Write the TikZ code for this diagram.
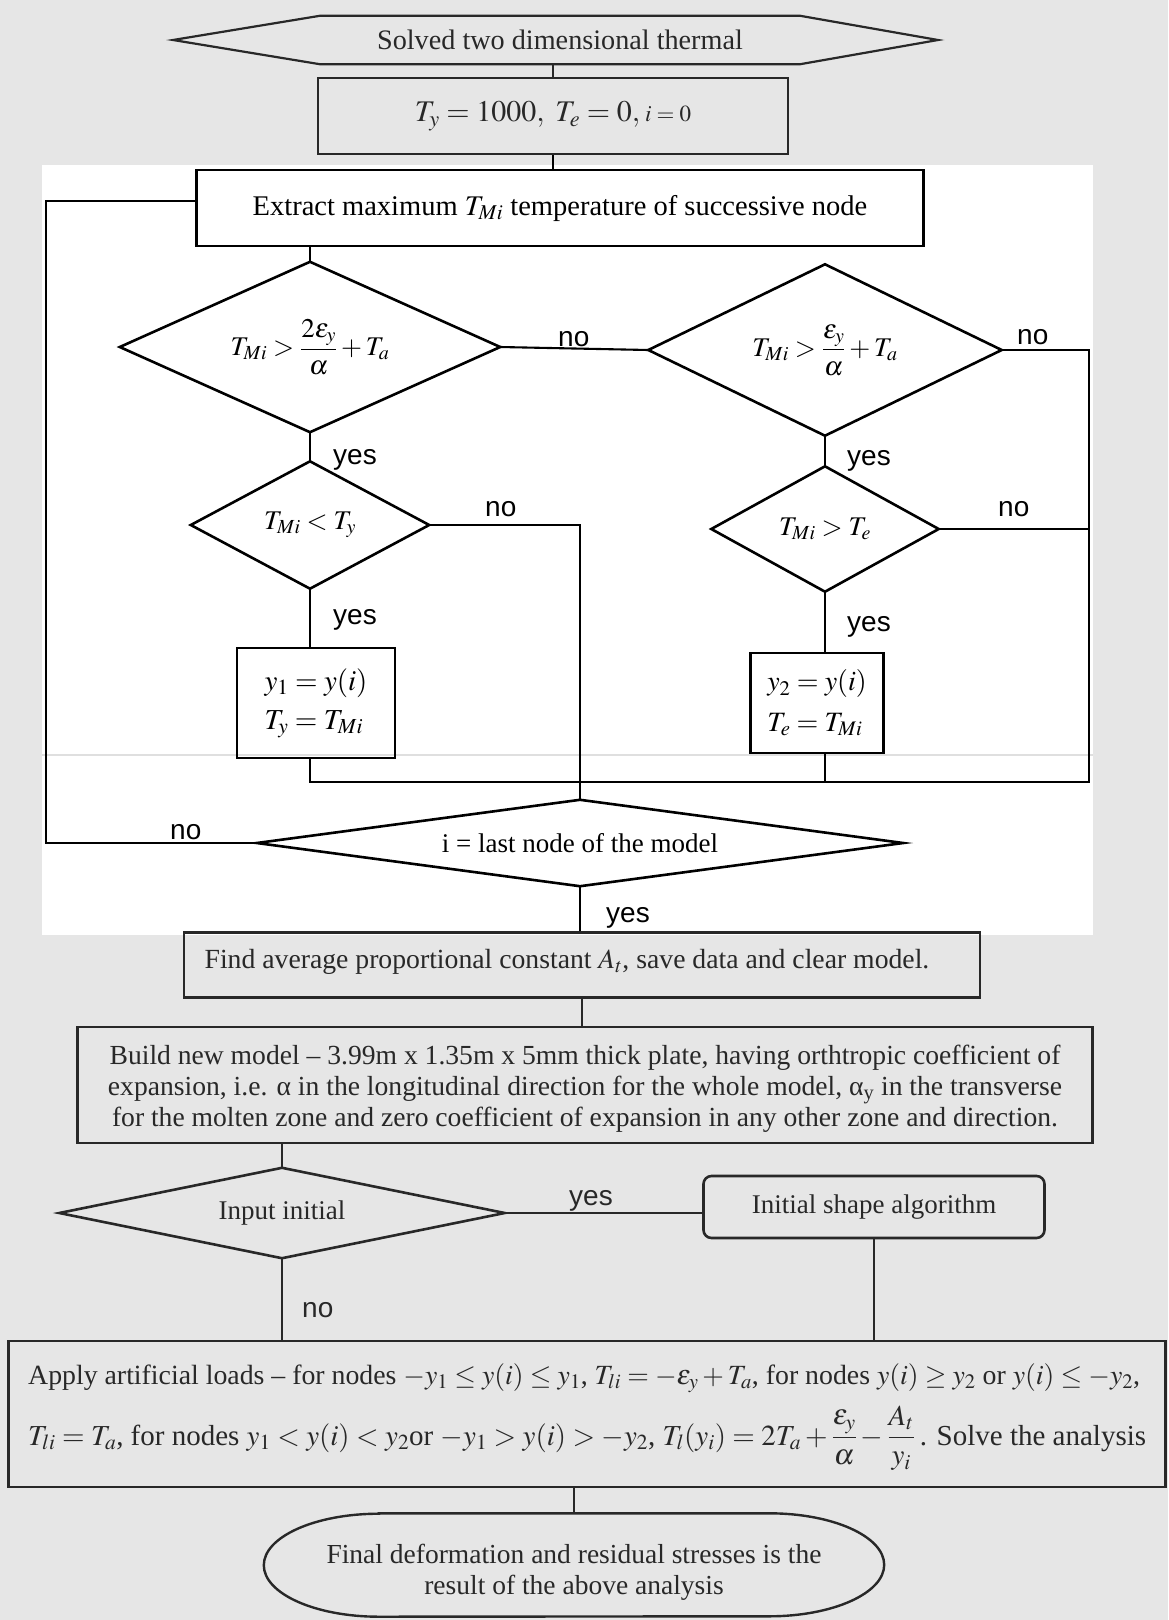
\documentclass[tikz,border=0pt]{standalone}
\usepackage{amsmath}
\usepackage{mathptmx}
\usepackage{fontspec}
\setmainfont{Liberation Serif}
\newfontfamily\labelfont{Liberation Sans}
\definecolor{paper}{RGB}{230,230,230}
\definecolor{ink}{RGB}{40,40,40}
% outline a decision node: the mid-points of its box are the diamond's corners
\newcommand\drawdiamond[2][]{\draw[line width=2.6pt,#1] (#2.north) -- (#2.east) -- (#2.south) -- (#2.west) -- cycle;}
\newcommand\fs[1]{\fontsize{#1}{31}\selectfont}
\begin{document}
\begin{tikzpicture}[x=1pt,y=1pt,
  serif/.style={font=\fs{27}},
  lab/.style={font=\labelfont\fontsize{28}{30}\selectfont, inner sep=0pt, anchor=base west},
  box/.style={draw, rectangle, line width=2.4pt, inner sep=0pt, serif},
  dia/.style={rectangle, inner sep=0pt, serif},
  wire/.style={line width=2.1pt},
]
\useasboundingbox (0,0) rectangle (1168,-1620);
\fill[paper] (0,0) rectangle (1168,-1620);
\fill[white] (42,-165) rectangle (1093,-935);
\draw[gray!25, line width=1.5pt] (42,-755) -- (1093,-755);

% ---------- start and initial values ----------
\node[serif, font=\fs{28.2}, ink, minimum width=480, minimum height=48, inner sep=0pt] (hex) at (560,-40) {Solved two dimensional thermal};
\coordinate (hexL) at (173,-40);
\coordinate (hexR) at (938,-40);
\draw[ink, line width=2.2pt] (hex.north west) -- (hex.north east) -- (hexR) -- (hex.south east)
  -- (hex.south west) -- (hexL) -- cycle;

\node[box, ink, font=\fs{30}, line width=2.8pt, minimum width=470, minimum height=76] (init) at (553,-116)
  {$T_y = 1000,\ T_e = 0,$\,{\fontsize{23}{26}\selectfont$i=0$}};
\draw[wire, ink] (init.north) -- (init.north |- hex.south);

% ---------- node loop ----------
\node[box, font=\fs{28.5}, minimum width=727, minimum height=76] (extract) at (560,-208)
  {Extract maximum $T_{Mi}$ temperature of successive node};
\draw[wire] (init.south) -- (init.south |- extract.north);

\node[dia, minimum width=380, minimum height=170] (d1) at (310,-347)
  {$T_{Mi} > \dfrac{2\varepsilon_y}{\alpha} + T_a$};
\node[dia, minimum width=353, minimum height=171] (d2) at (825,-350)
  {$T_{Mi} > \dfrac{\varepsilon_y}{\alpha} + T_a$};
\node[dia, minimum width=238, minimum height=127] (d3) at (310,-525) {$T_{Mi} < T_y$};
\node[dia, minimum width=227, minimum height=125] (d4) at (825,-529) {$T_{Mi} > T_e$};
\drawdiamond{d1}
\drawdiamond{d2}
\drawdiamond{d3}
\drawdiamond{d4}

\node[box, font=\fs{29}, minimum width=158, minimum height=110, align=left] (b1) at (316,-703)
  {$y_1 = y(i)$\\[8pt]$T_y = T_{Mi}$};
\node[box, font=\fs{28}, minimum width=133, minimum height=100, align=left] (b2) at (817,-703)
  {$y_2 = y(i)$\\[10pt]$T_e = T_{Mi}$};

\node[dia, minimum width=646, minimum height=86] (d5) at (580,-843) {i = last node of the model};
\drawdiamond{d5}

\coordinate (loopL) at (46,-201);
\coordinate (mergeR) at (1089,-782);

\draw[wire] (extract.south -| d1.north) -- (d1.north);
\draw[wire] (d1.east) -- (d2.west);
\draw[wire] (d1.south) -- (d3.north);
\draw[wire] (d2.south) -- (d4.north);
\draw[wire] (d3.south) -- (d3.south |- b1.north);
\draw[wire] (d4.south) -- (d4.south |- b2.north);
\draw[wire] (d3.east) -- (d3.east -| d5.north) -- (d5.north);
\draw[wire] (d2.east) -- (d2.east -| mergeR) -- (mergeR) -- (mergeR -| d3.south) -- (d3.south |- b1.south);
\draw[wire] (d4.east) -- (d4.east -| mergeR);
\draw[wire] (d4.south |- b2.south) -- (d4.south |- mergeR);
\draw[wire] (d5.west) -- (d5.west -| loopL) -- (loopL) -- (loopL -| extract.west);

\node[lab] (n1) at (558,-346) {no};
\node[lab] (n2) at (1017,-344) {no};
\node[lab] (y1) at (333,-464) {yes};
\node[lab] (y2) at (847,-465) {yes};
\node[lab] (n3) at (485,-516) {no};
\node[lab] (n4) at (998,-516) {no};
\node[lab] (y3) at (333,-624) {yes};
\node[lab] (y4) at (847,-631) {yes};
\node[lab] (n5) at (170,-839) {no};
\node[lab] (y5) at (606,-922) {yes};

% ---------- model rebuild and final analysis ----------
\node[box, ink, minimum width=796, minimum height=65] (find) at (582,-965) {};
\node[serif, ink, font=\fs{27.7}, inner sep=0pt] (findtext) at (567,-962)
  {Find average proportional constant $A_t$, save data and clear model.};
\draw[wire] (d5.south) -- (d5.south |- find.north);

\node[box, ink, line width=2.6pt, minimum width=1015, minimum height=116] (build) at (585,-1085) {};
\node[serif, ink, font=\fs{27.6}, align=center, inner sep=0pt] (buildtext) at (585,-1089)
  {Build new model -- 3.99m x 1.35m x 5mm thick plate, having orthtropic coefficient of\\
   expansion, i.e. α in the longitudinal direction for the whole model, α\textsubscript{y} in the transverse\\
   for the molten zone and zero coefficient of expansion in any other zone and direction.};
\draw[wire, ink] (find.south) -- (find.south |- build.north);

\node[dia, ink, minimum width=445, minimum height=90] (d6) at (282,-1213) {Input initial};
\drawdiamond[ink]{d6}
\node[box, ink, rounded corners=8pt, line width=2.6pt, minimum width=341, minimum height=62] (shape) at (874,-1207)
  {Initial shape algorithm};
\draw[wire, ink] (d6.north |- build.south) -- (d6.north);
\draw[wire, ink] (d6.east) -- (d6.east -| shape.west);
\node[lab, ink] (y6) at (569,-1205) {yes};
\node[lab, ink] (n6) at (302,-1317) {no};

\node[box, ink, line width=2.6pt, minimum width=1157, minimum height=146] (apply) at (587,-1414) {};
\node[serif, ink, font=\fs{27.8}, anchor=base west, inner sep=0pt] (ap1) at (28,-1384)
  {Apply artificial loads -- for nodes $-y_1 \le y(i) \le y_1$, $T_{li} = -\varepsilon_y + T_a$, for nodes $y(i) \ge y_2$ or $y(i) \le -y_2$,};
\node[serif, ink, font=\fs{29}, anchor=base west, inner sep=0pt] (ap2) at (28,-1445)
  {$T_{li} = T_a$, for nodes $y_1 < y(i) < y_2$or $-y_1 > y(i) > -y_2$, $T_l(y_i) = 2T_a + \dfrac{\varepsilon_y}{\alpha} - \dfrac{A_t}{y_i}$\,. Solve the analysis};
\draw[wire, ink] (d6.south) -- (d6.south |- apply.north);
\draw[wire, ink] (shape.south) -- (shape.south |- apply.north);

\node[minimum width=620, minimum height=103, inner sep=0pt] (final) at (574,-1565) {};
\node[serif, ink, font=\fs{27.5}, align=center, inner sep=0pt] (finaltext) at (574,-1572)
  {Final deformation and residual stresses is the\\result of the above analysis};
\draw[ink, line width=2.4pt] ([xshift=115pt]final.north west) -- ([xshift=-115pt]final.north east)
  arc[start angle=90, end angle=-90, x radius=115pt, y radius=51.5pt]
  -- ([xshift=115pt]final.south west)
  arc[start angle=270, end angle=90, x radius=115pt, y radius=51.5pt] -- cycle;
\draw[wire, ink] (apply.south -| final.north) -- (final.north);
\end{tikzpicture}
\end{document}
